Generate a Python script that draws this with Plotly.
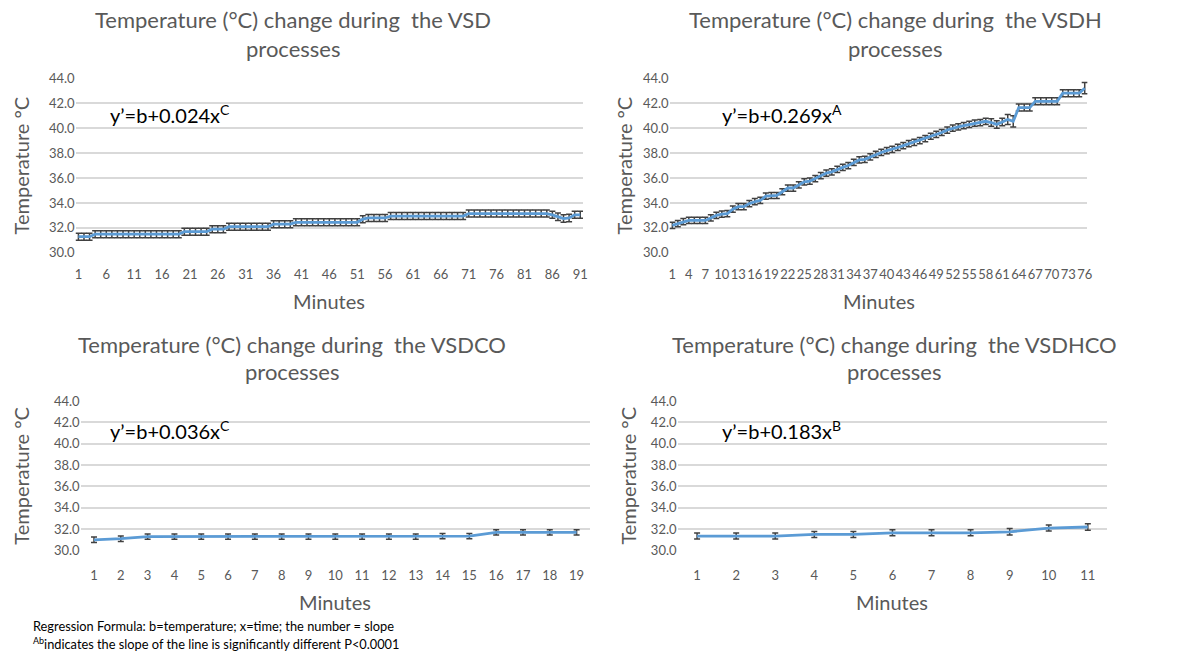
import plotly.graph_objects as go

# ---- data -----------------------------------------------------------------
vsd_minutes = list(range(1, 92))
vsd_temp = [
    31.3, 31.3, 31.3, 31.5, 31.5, 31.5, 31.5, 31.5, 31.5, 31.5,
    31.5, 31.5, 31.5, 31.5, 31.5, 31.5, 31.5, 31.5, 31.5, 31.7,
    31.7, 31.7, 31.7, 31.7, 31.9, 31.9, 31.9, 32.1, 32.1, 32.1,
    32.1, 32.1, 32.1, 32.1, 32.1, 32.3, 32.3, 32.3, 32.3, 32.45,
    32.45, 32.45, 32.45, 32.45, 32.45, 32.45, 32.45, 32.45, 32.45, 32.45,
    32.45, 32.7, 32.8, 32.8, 32.8, 32.8, 32.95, 32.95, 32.95, 32.95,
    32.95, 32.95, 32.95, 32.95, 32.95, 32.95, 32.95, 32.95, 32.95, 32.95,
    33.15, 33.15, 33.15, 33.15, 33.15, 33.15, 33.15, 33.15, 33.15, 33.15,
    33.15, 33.15, 33.15, 33.15, 33.15, 33.05, 32.9, 32.75, 32.8, 33.05,
    33.05,
]
vsd_err = [
    0.28, 0.28, 0.28, 0.28, 0.28, 0.28, 0.28, 0.28, 0.28, 0.28,
    0.28, 0.28, 0.28, 0.28, 0.28, 0.28, 0.28, 0.28, 0.28, 0.28,
    0.28, 0.28, 0.28, 0.28, 0.28, 0.28, 0.28, 0.28, 0.28, 0.28,
    0.28, 0.28, 0.28, 0.28, 0.28, 0.28, 0.28, 0.28, 0.28, 0.28,
    0.28, 0.28, 0.28, 0.28, 0.28, 0.28, 0.28, 0.28, 0.28, 0.28,
    0.28, 0.28, 0.28, 0.28, 0.28, 0.28, 0.28, 0.28, 0.28, 0.28,
    0.28, 0.28, 0.28, 0.28, 0.28, 0.28, 0.28, 0.28, 0.28, 0.28,
    0.28, 0.28, 0.28, 0.28, 0.28, 0.28, 0.28, 0.28, 0.28, 0.28,
    0.28, 0.28, 0.28, 0.28, 0.28, 0.28, 0.3, 0.3, 0.3, 0.28,
    0.28,
]

vsdh_minutes = list(range(1, 77))
vsdh_temp = [
    32.2, 32.35, 32.5, 32.6, 32.6, 32.6, 32.6, 32.8, 33.0, 33.1,
    33.15, 33.5, 33.7, 33.7, 33.95, 34.1, 34.2, 34.55, 34.6, 34.6,
    34.9, 35.2, 35.2, 35.45, 35.7, 35.75, 35.95, 36.2, 36.4, 36.5,
    36.7, 36.85, 37.0, 37.25, 37.45, 37.5, 37.7, 37.9, 38.05, 38.2,
    38.3, 38.45, 38.6, 38.75, 38.85, 39.0, 39.15, 39.35, 39.5, 39.65,
    39.85, 40.0, 40.1, 40.2, 40.3, 40.4, 40.45, 40.55, 40.45, 40.3,
    40.5, 40.7, 40.55, 41.65, 41.65, 41.65, 42.15, 42.15, 42.15, 42.15,
    42.15, 42.8, 42.8, 42.8, 42.8, 43.2,
]
vsdh_err = [
    0.25, 0.25, 0.25, 0.25, 0.25, 0.25, 0.25, 0.25, 0.25, 0.25,
    0.25, 0.25, 0.25, 0.25, 0.25, 0.25, 0.25, 0.25, 0.25, 0.25,
    0.25, 0.25, 0.25, 0.25, 0.25, 0.25, 0.25, 0.25, 0.25, 0.25,
    0.25, 0.25, 0.25, 0.25, 0.25, 0.25, 0.25, 0.25, 0.25, 0.25,
    0.25, 0.25, 0.25, 0.25, 0.25, 0.25, 0.25, 0.25, 0.25, 0.25,
    0.25, 0.25, 0.25, 0.25, 0.25, 0.25, 0.25, 0.25, 0.3, 0.3,
    0.3, 0.4, 0.45, 0.28, 0.28, 0.28, 0.28, 0.28, 0.28, 0.28,
    0.28, 0.28, 0.28, 0.28, 0.28, 0.45,
]

vsdco_minutes = list(range(1, 20))
vsdco_temp = [31.0, 31.1, 31.3, 31.3, 31.3, 31.3, 31.3, 31.3, 31.3, 31.3,
              31.3, 31.3, 31.3, 31.35, 31.35, 31.7, 31.7, 31.7, 31.7]
vsdco_err = [0.25, 0.25, 0.25, 0.25, 0.25, 0.25, 0.25, 0.25, 0.25, 0.25,
             0.25, 0.25, 0.25, 0.25, 0.25, 0.25, 0.25, 0.25, 0.25]

vsdhco_minutes = list(range(1, 12))
vsdhco_temp = [31.35, 31.35, 31.35, 31.5, 31.5, 31.65, 31.65, 31.65, 31.75, 32.1, 32.2]
vsdhco_err = [0.28, 0.28, 0.28, 0.28, 0.28, 0.28, 0.28, 0.28, 0.3, 0.28, 0.3]

panel_titles = [
    "Temperature (°C) change during\u00a0 the VSD",
    "Temperature (°C) change during\u00a0 the VSDH",
    "Temperature (°C) change during\u00a0 the VSDCO",
    "Temperature (°C) change during\u00a0 the VSDHCO",
]
equations = [
    "y’=b+0.024x<sup>C</sup>",
    "y’=b+0.269x<sup>A</sup>",
    "y’=b+0.036x<sup>C</sup>",
    "y’=b+0.183x<sup>B</sup>",
]
tick_step = [5, 3, 1, 1]
y_ticks = [30, 32, 34, 36, 38, 40, 42, 44]
footnotes = [
    "Regression Formula: b=temperature; x=time; the number = slope",
    "<sup>Ab</sup>indicates the slope of the line is significantly different P&lt;0.0001",
]

# ---- style / layout helpers ----------------------------------------------
W, H = 1183, 656
FONT = "Lato, Carlito, Calibri, sans-serif"
GREY = "#595959"
GRID = "#d9d9d9"
LINE = "#5b9bd5"
ERR = "#404040"


def fx(px):
    return px / W


def fy(py):
    return 1 - py / H


# plot-area boxes in pixels: (left, right, y of 44.0, y of 30.0)
boxes = [
    (75, 585, 72, 251),
    (672, 1092, 72, 251),
    (80, 592, 403, 556),
    (680, 1112, 403, 556),
]
tick_standoff = [12, 12, 16, 16]
title_cx = [293, 899, 292, 898]
title_y = [(12, 41), (12, 41), (345, 373), (345, 373)]
eq_pos = [(108, 109), (723, 109), (108, 433), (723, 433)]
ytitle_x = [20, 626, 20, 630]
xtitle_y = [300, 300, 609, 609]

series = [
    (vsd_minutes, vsd_temp, vsd_err),
    (vsdh_minutes, vsdh_temp, vsdh_err),
    (vsdco_minutes, vsdco_temp, vsdco_err),
    (vsdhco_minutes, vsdhco_temp, vsdhco_err),
]

fig = go.Figure()
annotations = []
layout_axes = {}

for i, (mins, temp, err) in enumerate(series):
    n = i + 1
    xa = "x" if n == 1 else f"x{n}"
    ya = "y" if n == 1 else f"y{n}"
    left, right, ytop, ybot = boxes[i]

    fig.add_trace(go.Scatter(
        x=mins, y=temp, xaxis=xa, yaxis=ya, mode="lines",
        line=dict(color=LINE, width=2.8),
        error_y=dict(type="data", array=err, visible=True,
                     color=ERR, thickness=1.5, width=3),
        showlegend=False, hoverinfo="x+y",
    ))

    ticks = mins[::tick_step[i]]
    layout_axes[f"xaxis{'' if n == 1 else n}"] = dict(
        domain=[fx(left), fx(right)], anchor=ya,
        range=[0.5, len(mins) + 0.5],
        tickmode="array", tickvals=ticks, ticktext=[str(t) for t in ticks],
        tickangle=0, ticklabelstandoff=tick_standoff[i],
        showgrid=False, zeroline=False, showline=False, ticks="",
        tickfont=dict(family=FONT, size=13, color=GREY),
    )
    layout_axes[f"yaxis{'' if n == 1 else n}"] = dict(
        domain=[fy(ybot), fy(ytop)], anchor=xa,
        range=[30, 44], tickmode="array", tickvals=y_ticks,
        ticktext=[f"{v:.1f}" for v in y_ticks],
        showgrid=True, gridcolor=GRID, gridwidth=1.6,
        zeroline=False, showline=False, ticks="",
        tickfont=dict(family=FONT, size=13, color=GREY),
    )

    cx = title_cx[i]
    y1, y2 = title_y[i]
    annotations.append(dict(
        text=panel_titles[i], x=fx(cx), y=fy(y1), xref="paper", yref="paper",
        xanchor="center", yanchor="middle", showarrow=False,
        font=dict(family=FONT, size=22, color=GREY)))
    annotations.append(dict(
        text="processes", x=fx(cx), y=fy(y2), xref="paper", yref="paper",
        xanchor="center", yanchor="middle", showarrow=False,
        font=dict(family=FONT, size=22, color=GREY)))
    ex, ey = eq_pos[i]
    annotations.append(dict(
        text=equations[i], x=fx(ex), y=fy(ey), xref="paper", yref="paper",
        xanchor="left", yanchor="middle", showarrow=False,
        font=dict(family=FONT, size=20, color="#000000")))
    annotations.append(dict(
        text="Temperature °C", x=fx(ytitle_x[i]), y=fy((ytop + ybot) / 2),
        xref="paper", yref="paper", xanchor="center", yanchor="middle",
        textangle=-90, showarrow=False,
        font=dict(family=FONT, size=20, color=GREY)))
    annotations.append(dict(
        text="Minutes", x=fx((left + right) / 2), y=fy(xtitle_y[i]),
        xref="paper", yref="paper", xanchor="center", yanchor="middle",
        showarrow=False, font=dict(family=FONT, size=20, color=GREY)))

for k, note in enumerate(footnotes):
    annotations.append(dict(
        text=note, x=fx(30), y=fy(633 + 18 * k), xref="paper", yref="paper",
        xanchor="left", yanchor="middle", showarrow=False,
        font=dict(family=FONT, size=12.8, color="#000000")))

fig.update_layout(
    width=W, height=H, margin=dict(l=0, r=0, t=0, b=0),
    paper_bgcolor="white", plot_bgcolor="white",
    annotations=annotations, **layout_axes,
)

fig.write_html("out.html")
